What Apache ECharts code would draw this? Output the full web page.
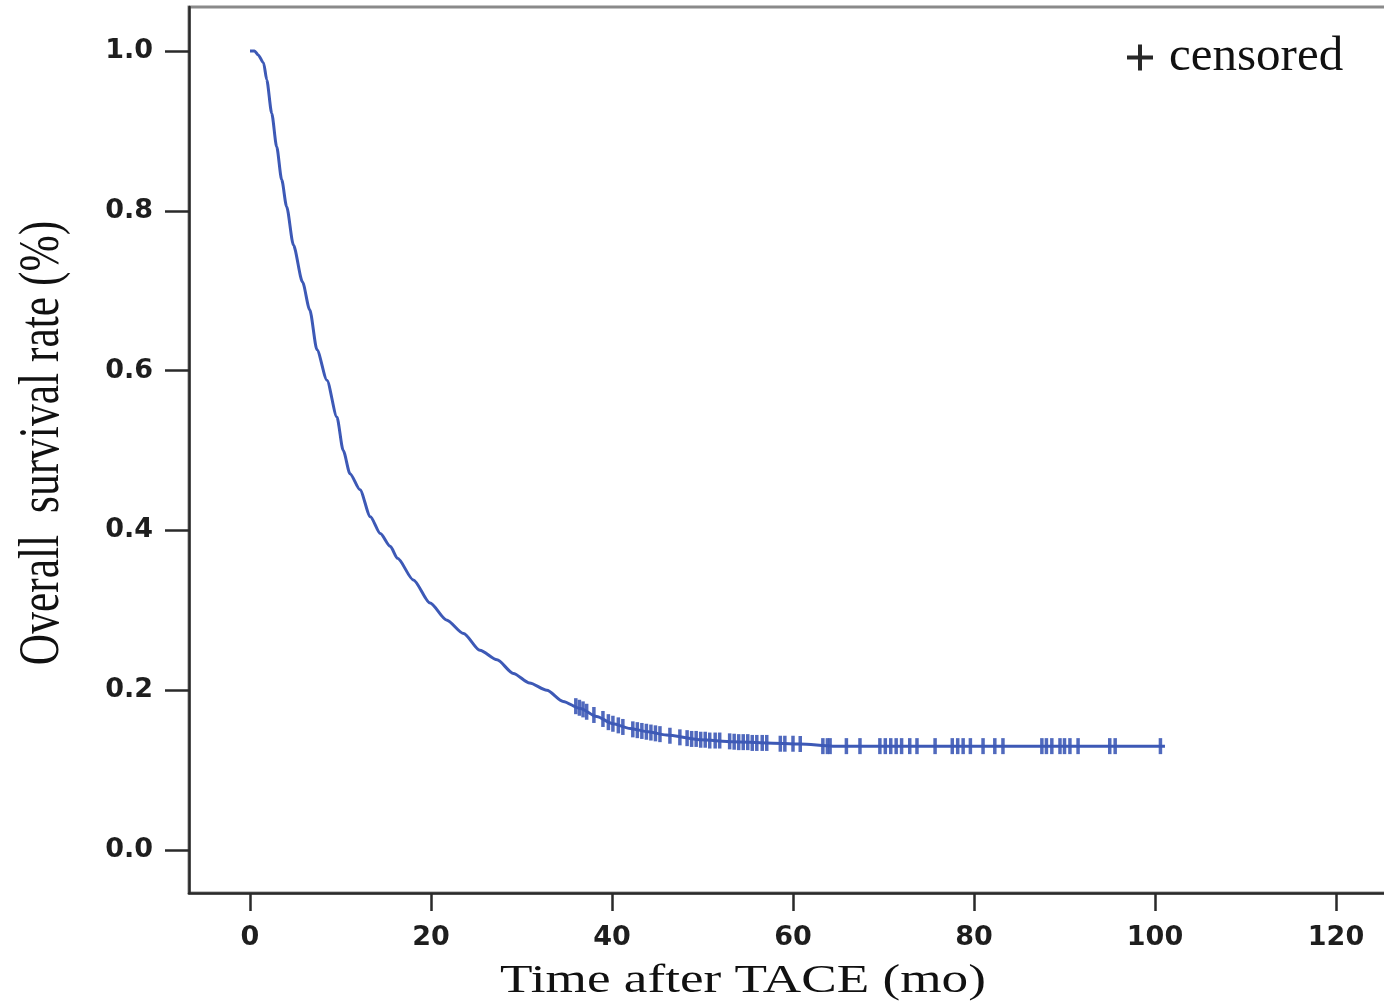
<!DOCTYPE html>
<html>
<head>
<meta charset="utf-8">
<script src="https://cdn.jsdelivr.net/npm/echarts@6/dist/echarts.min.js"></script>
<style>
html,body{margin:0;padding:0;background:#fff;}
#chart{width:1384px;height:1005px;}
</style>
</head>
<body>
<div id="chart"></div>
<script>
// Kaplan–Meier curve
const survTime = [0, 0.5, 0.9, 1.5, 1.85, 2.4, 2.95, 3.5, 4.05, 4.8, 5.8, 6.6, 7.4, 8.5, 9.6, 10.3, 11.05, 12.15, 13.3, 14.4, 15.5, 16.3, 18.05, 19.9, 21.7, 23.6, 25.4, 27.3, 29.1, 30.9, 32.8, 34.6, 36.5, 38.3, 40.1, 42, 44, 46, 49.7, 53.4, 57.1, 60.8, 64.4, 70, 80, 90, 101.1];
const survRate = [1.0, 1.0, 0.995, 0.985, 0.964, 0.922, 0.880, 0.839, 0.805, 0.757, 0.711, 0.676, 0.626, 0.588, 0.542, 0.50, 0.471, 0.451, 0.417, 0.396, 0.380, 0.365, 0.338, 0.309, 0.288, 0.271, 0.250, 0.238, 0.221, 0.209, 0.200, 0.186, 0.177, 0.167, 0.158, 0.152, 0.148, 0.144, 0.138, 0.1355, 0.134, 0.1327, 0.130, 0.130, 0.130, 0.130, 0.130];

// censored observations (time, survival at that time)
const censorTime = [36.0, 36.4, 36.8, 37.2, 38.0, 39.0, 39.6, 40.1, 40.7, 41.2, 42.3, 42.8, 43.3, 43.8, 44.3, 44.8, 45.3, 46.4, 47.5, 48.3, 48.8, 49.3, 49.8, 50.3, 50.8, 51.4, 51.9, 53.0, 53.5, 54.0, 54.5, 55.0, 55.5, 56.0, 56.6, 57.1, 58.6, 59.1, 60.0, 60.8, 63.3, 63.8, 64.1, 65.9, 67.4, 69.6, 70.2, 70.8, 71.4, 72.0, 72.9, 73.7, 75.7, 77.6, 78.2, 78.8, 79.6, 81.0, 82.3, 83.2, 87.5, 88.0, 88.6, 89.5, 90.0, 90.6, 91.5, 95.0, 95.6, 100.6];
const censorRate = [0.180, 0.178, 0.176, 0.173, 0.169, 0.164, 0.160, 0.158, 0.156, 0.154, 0.151, 0.150, 0.149, 0.148, 0.147, 0.146, 0.145, 0.143, 0.141, 0.140, 0.139, 0.139, 0.138, 0.138, 0.137, 0.137, 0.137, 0.136, 0.1355, 0.135, 0.135, 0.135, 0.134, 0.134, 0.134, 0.134, 0.133, 0.133, 0.133, 0.1327, 0.130, 0.130, 0.130, 0.130, 0.130, 0.130, 0.130, 0.130, 0.130, 0.130, 0.130, 0.130, 0.130, 0.130, 0.130, 0.130, 0.130, 0.130, 0.130, 0.130, 0.130, 0.130, 0.130, 0.130, 0.130, 0.130, 0.130, 0.130, 0.130, 0.130];

const xTicks = [0, 20, 40, 60, 80, 100, 120];
const yTicks = [0, 0.2, 0.4, 0.6, 0.8, 1.0];

const xTitle = 'Time after TACE (mo)';
const yTitle = 'Overall  survival rate (%)';
const legendLabel = 'censored';

const blue = '#3d59b6';
const dark = '#2a2a2a';

const chart = echarts.init(document.getElementById('chart'));
chart.setOption({
  animation: false,
  backgroundColor: '#fff',
  grid: {
    left: 189, top: 7, bottom: 112, right: -24.4,
    outerBoundsMode: 'none', containLabel: false,
    show: true, borderColor: '#8a8a8a', borderWidth: 3, backgroundColor: 'transparent'
  },
  xAxis: {
    type: 'value', min: -6.74, max: 128,
    splitLine: {show: false},
    axisLine: {show: true, onZero: false, lineStyle: {color: dark, width: 2.5}},
    axisTick: {show: true, length: 18, lineStyle: {color: dark, width: 2.5}, customValues: xTicks},
    axisLabel: {customValues: xTicks, margin: 31, fontFamily: 'DejaVu Sans', fontWeight: 'bold', fontSize: 27, color: '#1e1e1e'}
  },
  yAxis: {
    type: 'value', min: -0.0538, max: 1.055,
    splitLine: {show: false},
    axisLine: {show: true, onZero: false, lineStyle: {color: dark, width: 2.5}},
    axisTick: {show: true, length: 24, lineStyle: {color: dark, width: 2.5}, customValues: yTicks},
    axisLabel: {customValues: yTicks, margin: 36, fontFamily: 'DejaVu Sans', fontWeight: 'bold', fontSize: 27, color: '#1e1e1e',
      formatter: v => v.toFixed(1)}
  },
  legend: {
    show: true, left: 1127, top: 33, padding: 0,
    itemWidth: 26, itemHeight: 26,
    data: [{name: legendLabel, icon: 'path://M11,0h4v11h11v4h-11v11h-4v-11h-11v-4h11z', itemStyle: {color: '#111'}}],
    textStyle: {fontFamily: 'Liberation Serif', fontSize: 49, color: '#111', padding: [0, 0, 0, 11]}
  },
  graphic: [
    {type: 'text', x: 743, y: 981, scaleX: 1.33, scaleY: 1, silent: true,
      style: {text: xTitle, fontFamily: 'Liberation Serif', fontSize: 40, fill: '#111', align: 'center', verticalAlign: 'middle'}},
    {type: 'text', x: 43, y: 443, rotation: Math.PI / 2, scaleX: 1, scaleY: 1.3, silent: true,
      style: {text: yTitle, fontFamily: 'Liberation Serif', fontSize: 43.5, fill: '#111', align: 'center', verticalAlign: 'middle'}}
  ],
  series: [
    {
      name: 'survival', type: 'line',
      data: survTime.map((t, i) => [t, survRate[i]]),
      showSymbol: false, symbol: 'none',
      smooth: 0.25, smoothMonotone: 'x',
      lineStyle: {color: blue, width: 3},
      itemStyle: {color: blue}
    },
    {
      name: legendLabel, type: 'scatter',
      data: censorTime.map((t, i) => [t, censorRate[i]]),
      symbol: 'rect', symbolSize: [3.5, 16],
      itemStyle: {color: blue, opacity: 0.9}
    }
  ]
});
</script>
</body>
</html>
